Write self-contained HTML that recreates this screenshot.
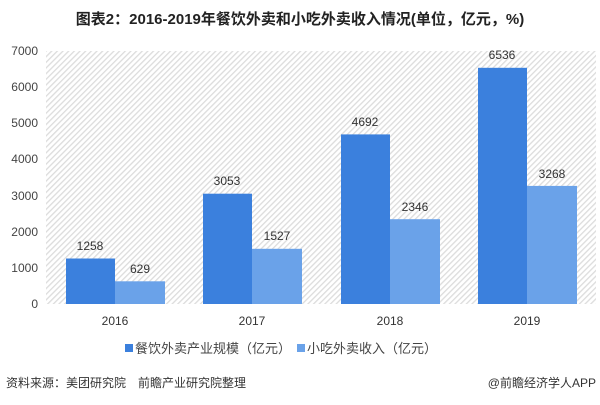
<!DOCTYPE html>
<html><head><meta charset="utf-8"><style>
body{margin:0;width:600px;height:400px;background:#fff;font-family:"Liberation Sans","Noto Sans CJK SC",sans-serif;overflow:hidden}
</style></head><body>
<svg width="600" height="400" xmlns="http://www.w3.org/2000/svg" font-family="Liberation Sans, Noto Sans CJK SC, sans-serif">
<defs><pattern id="h" width="4" height="4" patternUnits="userSpaceOnUse" patternTransform="rotate(45)"><rect width="4" height="4" fill="#fff"/><rect width="1.3" height="4" fill="#dcdcdc"/></pattern></defs>
<text x="300" y="24" text-anchor="middle" font-size="15" font-weight="bold" fill="#222">图表2：2016-2019年餐饮外卖和小吃外卖收入情况(单位，亿元，%)</text>
<rect x="46" y="51" width="550" height="253" fill="url(#h)"/>
<g font-size="12" fill="#444" text-anchor="end">
<text x="38" y="55">7000</text><text x="38" y="91">6000</text><text x="38" y="127">5000</text><text x="38" y="163">4000</text><text x="38" y="200">3000</text><text x="38" y="236">2000</text><text x="38" y="272">1000</text><text x="38" y="308">0</text>
</g>
<g>
<rect x="66" y="258.5" width="49" height="45.5" fill="#3b80dd"/><rect x="115" y="281.3" width="50" height="22.7" fill="#6aa2e9"/>
<rect x="203" y="193.7" width="49" height="110.3" fill="#3b80dd"/><rect x="252" y="248.8" width="50" height="55.2" fill="#6aa2e9"/>
<rect x="341" y="134.4" width="49" height="169.6" fill="#3b80dd"/><rect x="390" y="219.2" width="50" height="84.8" fill="#6aa2e9"/>
<rect x="478" y="67.8" width="49" height="236.2" fill="#3b80dd"/><rect x="527" y="185.9" width="50" height="118.1" fill="#6aa2e9"/>
</g>
<g font-size="12" fill="#333" text-anchor="middle">
<text x="90" y="250">1258</text><text x="140" y="273">629</text>
<text x="227" y="185">3053</text><text x="277" y="240">1527</text>
<text x="365" y="126">4692</text><text x="415" y="211">2346</text>
<text x="502" y="59">6536</text><text x="552" y="178">3268</text>
<text x="115" y="325">2016</text><text x="252" y="325">2017</text><text x="390" y="325">2018</text><text x="527" y="325">2019</text>
</g>
<rect x="125" y="344" width="8" height="8" fill="#3b80dd"/>
<text x="135" y="353" font-size="13" fill="#444">餐饮外卖产业规模（亿元）</text>
<rect x="297" y="344" width="8" height="8" fill="#6aa2e9"/>
<text x="307" y="353" font-size="13" fill="#444">小吃外卖收入（亿元）</text>
<text x="6" y="387" font-size="12" fill="#333">资料来源：美团研究院　前瞻产业研究院整理</text>
<text x="596" y="387" font-size="12" fill="#333" text-anchor="end">@前瞻经济学人APP</text>
</svg>
</body></html>
